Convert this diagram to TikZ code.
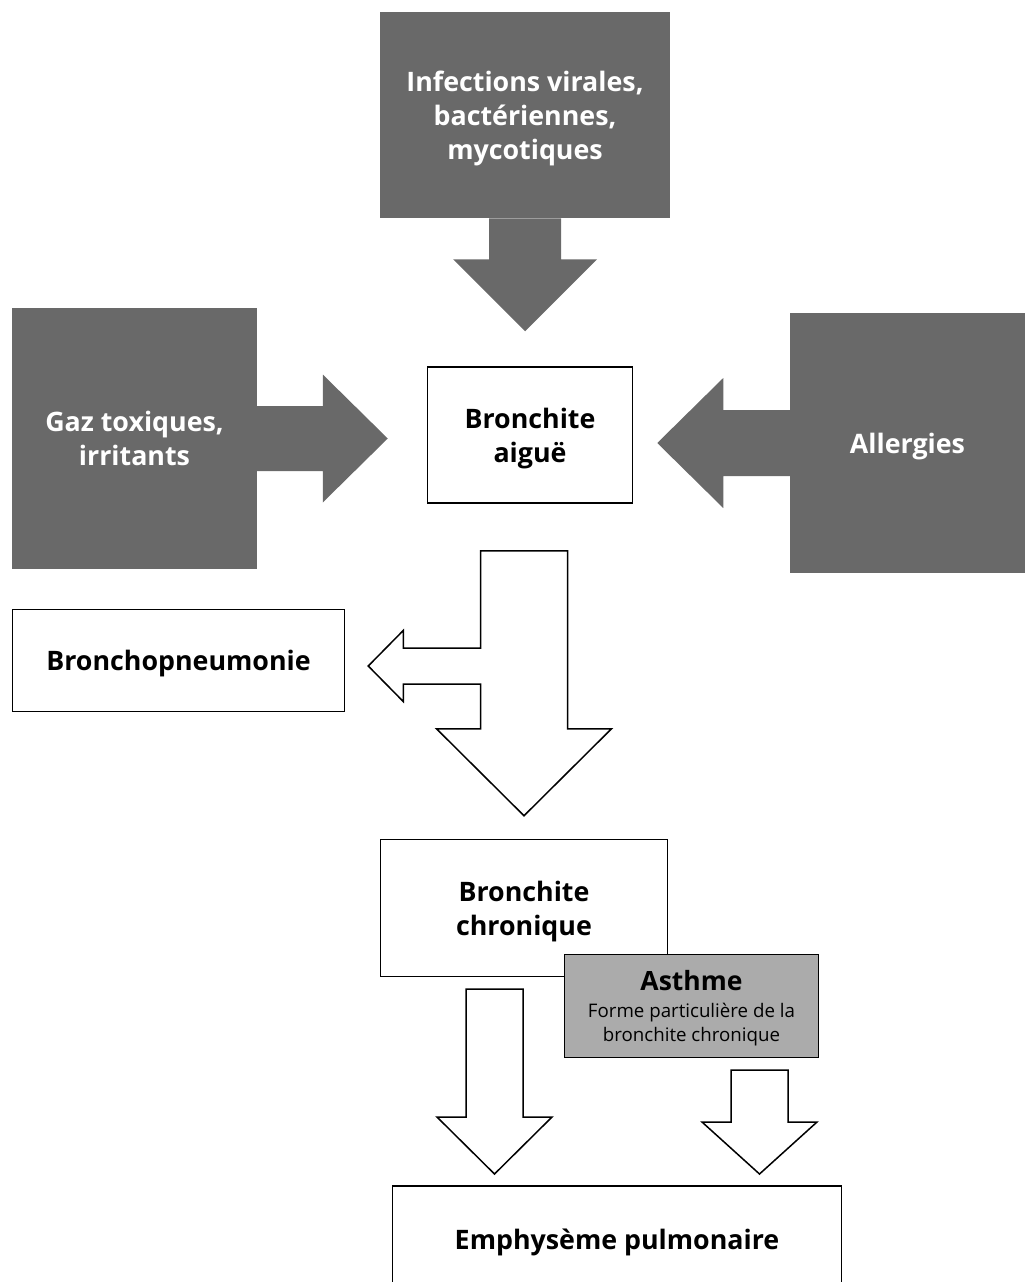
\documentclass[tikz,border=0pt]{standalone}
\usepackage{fontspec}
\setmainfont{Open Sans}
\usetikzlibrary{calc}
\usetikzlibrary{positioning}
\definecolor{causegray}{HTML}{696969}
\definecolor{asthmegray}{HTML}{ABABAB}

\begin{document}
\begin{tikzpicture}[
        x=1pt, y=-1pt,
        cause/.style={rectangle, fill=causegray, text=white, inner sep=0pt, align=center, text depth=0pt,
            font=\bfseries\fontsize{26.8}{34}\selectfont},
        stage/.style={rectangle, draw=black, line width=1.5pt, fill=white, inner sep=0pt, align=center, text depth=0pt,
            font=\bfseries\fontsize{26.8}{34}\selectfont},
        special/.style={stage, fill=asthmegray, font=\fontsize{18.7}{24}\selectfont},
        darkarrow/.style={fill=causegray},
        openarrow/.style={draw=black, fill=white, line width=1.5pt, line join=miter}
    ]
    \useasboundingbox (0,0) rectangle (1025,1282);

    % Causes
    \node[cause, minimum width=290, minimum height=206] at (525,115) (infect) {Infections virales,\\bactériennes,\\mycotiques};
    \node[cause, minimum width=245, minimum height=261] at (134.5,438.5) (gaz) {Gaz toxiques,\\irritants};
    \node[cause, minimum width=235, minimum height=260] at (907.5,443) (allerg) {Allergies};

    % Stages
    \node[stage, minimum width=205, minimum height=136] at (530,435) (aigue) {Bronchite\\aiguë};
    \node[stage, minimum width=332, minimum height=102] at (178.5,660.5) (broncho) {Bronchopneumonie};
    \node[stage, minimum width=287, minimum height=137] at (524,908) (chron) {Bronchite\\chronique};
    \node[special, minimum width=254, minimum height=103] at (691.5,1006) (asthme)
        {{\bfseries\fontsize{26.5}{27}\selectfont Asthme}\\[3pt]Forme particulière de la\\bronchite chronique};
    \node[stage, anchor=north, minimum width=449, minimum height=106] at (617,1185) (emphy) {Emphysème pulmonaire};

    % Tips of the arrows
    \coordinate (tipA) at ($(infect.south |- aigue.north)+(0,-35)$);
    \coordinate (tipG) at ($(aigue.west |- gaz.east)+(-39,0)$);
    \coordinate (tipL) at ($(aigue.east |- allerg.west)+(24,0)$);
    \coordinate (tipB) at ($(broncho.east)+(23,5.5)$);
    \coordinate (tipC) at ($(chron.north)+(0,-23)$);
    \coordinate (tipE) at ($(emphy.north -| chron.south)+(-29.5,-11)$);
    \coordinate (tipF) at ($(emphy.north -| asthme.south)+(68,-11)$);

    % Arrows from the causes
    \fill[darkarrow] ($(tipA)+(-36,-113)$) -- ($(tipA)+(-36,-72)$) -- ($(tipA)+(-72,-72)$) -- (tipA)
        -- ($(tipA)+(72,-72)$) -- ($(tipA)+(36,-72)$) -- ($(tipA)+(36,-113)$) -- cycle;
    \fill[darkarrow] ($(tipG)+(-132,-32.5)$) -- ($(tipG)+(-65,-32.5)$) -- ($(tipG)+(-65,-64)$) -- (tipG)
        -- ($(tipG)+(-65,64)$) -- ($(tipG)+(-65,32.5)$) -- ($(tipG)+(-132,32.5)$) -- cycle;
    \fill[darkarrow] ($(tipL)+(134,-33)$) -- ($(tipL)+(66,-33)$) -- ($(tipL)+(66,-65)$) -- (tipL)
        -- ($(tipL)+(66,65)$) -- ($(tipL)+(66,33)$) -- ($(tipL)+(134,33)$) -- cycle;

    % Acute to chronic, with the branch to bronchopneumonia
    \draw[openarrow] ($(tipC)+(-43.5,-265)$) -- ($(tipC |- tipB)+(-43.5,-18)$)
        -- ($(tipB)+(35,-18)$) -- ($(tipB)+(35,-35.5)$) -- (tipB) -- ($(tipB)+(35,35.5)$) -- ($(tipB)+(35,18)$)
        -- ($(tipC |- tipB)+(-43.5,18)$) -- ($(tipC)+(-43.5,-87)$) -- ($(tipC)+(-87.5,-87)$) -- (tipC)
        -- ($(tipC)+(87.5,-87)$) -- ($(tipC)+(43.5,-87)$) -- ($(tipC)+(43.5,-265)$) -- cycle;

    % Towards emphysema
    \draw[openarrow] ($(tipE)+(-28.5,-185)$) -- ($(tipE)+(-28.5,-57)$) -- ($(tipE)+(-57.5,-57)$) -- (tipE)
        -- ($(tipE)+(57.5,-57)$) -- ($(tipE)+(28.5,-57)$) -- ($(tipE)+(28.5,-185)$) -- cycle;
    \draw[openarrow] ($(tipF)+(-28.5,-104)$) -- ($(tipF)+(-28.5,-52)$) -- ($(tipF)+(-57.5,-52)$) -- (tipF)
        -- ($(tipF)+(57.5,-52)$) -- ($(tipF)+(28.5,-52)$) -- ($(tipF)+(28.5,-104)$) -- cycle;

\end{tikzpicture}
\end{document}
